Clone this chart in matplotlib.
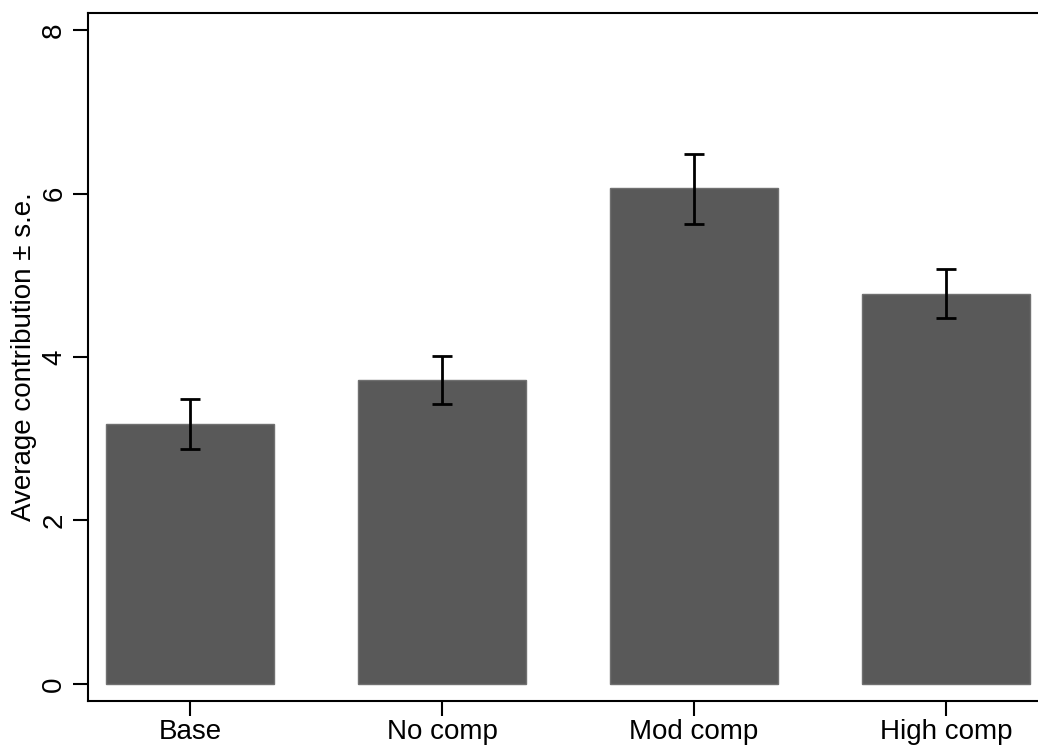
import numpy as np
import matplotlib.pyplot as plt

plt.rcParams['font.family'] = ['Liberation Sans', 'DejaVu Sans']

# Data
groups = ['Base', 'No comp', 'Mod comp', 'High comp']
means = [3.18, 3.72, 6.07, 4.77]
se_low = [2.87, 3.43, 5.63, 4.48]
se_high = [3.49, 4.01, 6.48, 5.08]

x = np.arange(len(groups))
yerr = [np.array(means) - np.array(se_low), np.array(se_high) - np.array(means)]

fig = plt.figure(figsize=(10.38, 7.46), dpi=100)
ax = fig.add_axes([88 / 1038, 1 - 701 / 746, (1048 - 88) / 1038, (701 - 13) / 746])

ax.bar(x, means, width=0.667, color='#595959', edgecolor='#707070', linewidth=1)
ax.errorbar(x, means, yerr=yerr, fmt='none', ecolor='black', elinewidth=2,
            capsize=7, capthick=2)

ax.set_xlim(-0.405, 3.405)
ax.set_ylim(-0.21, 8.21)
ax.set_xticks(x)
ax.set_xticklabels(groups)
ax.set_yticks([0, 2, 4, 6, 8])
ax.set_yticklabels(['0', '2', '4', '6', '8'], rotation=90, va='center')
ax.tick_params(axis='both', length=11, width=1.5, labelsize=20)
ax.tick_params(axis='x', pad=2)
ax.tick_params(axis='y', pad=4)
ax.set_ylabel('Average contribution ± s.e.', fontsize=20, labelpad=3)

for s in ax.spines.values():
    s.set_linewidth(1.5)
ax.spines['right'].set_visible(False)

fig.savefig('out.png', dpi=100)
